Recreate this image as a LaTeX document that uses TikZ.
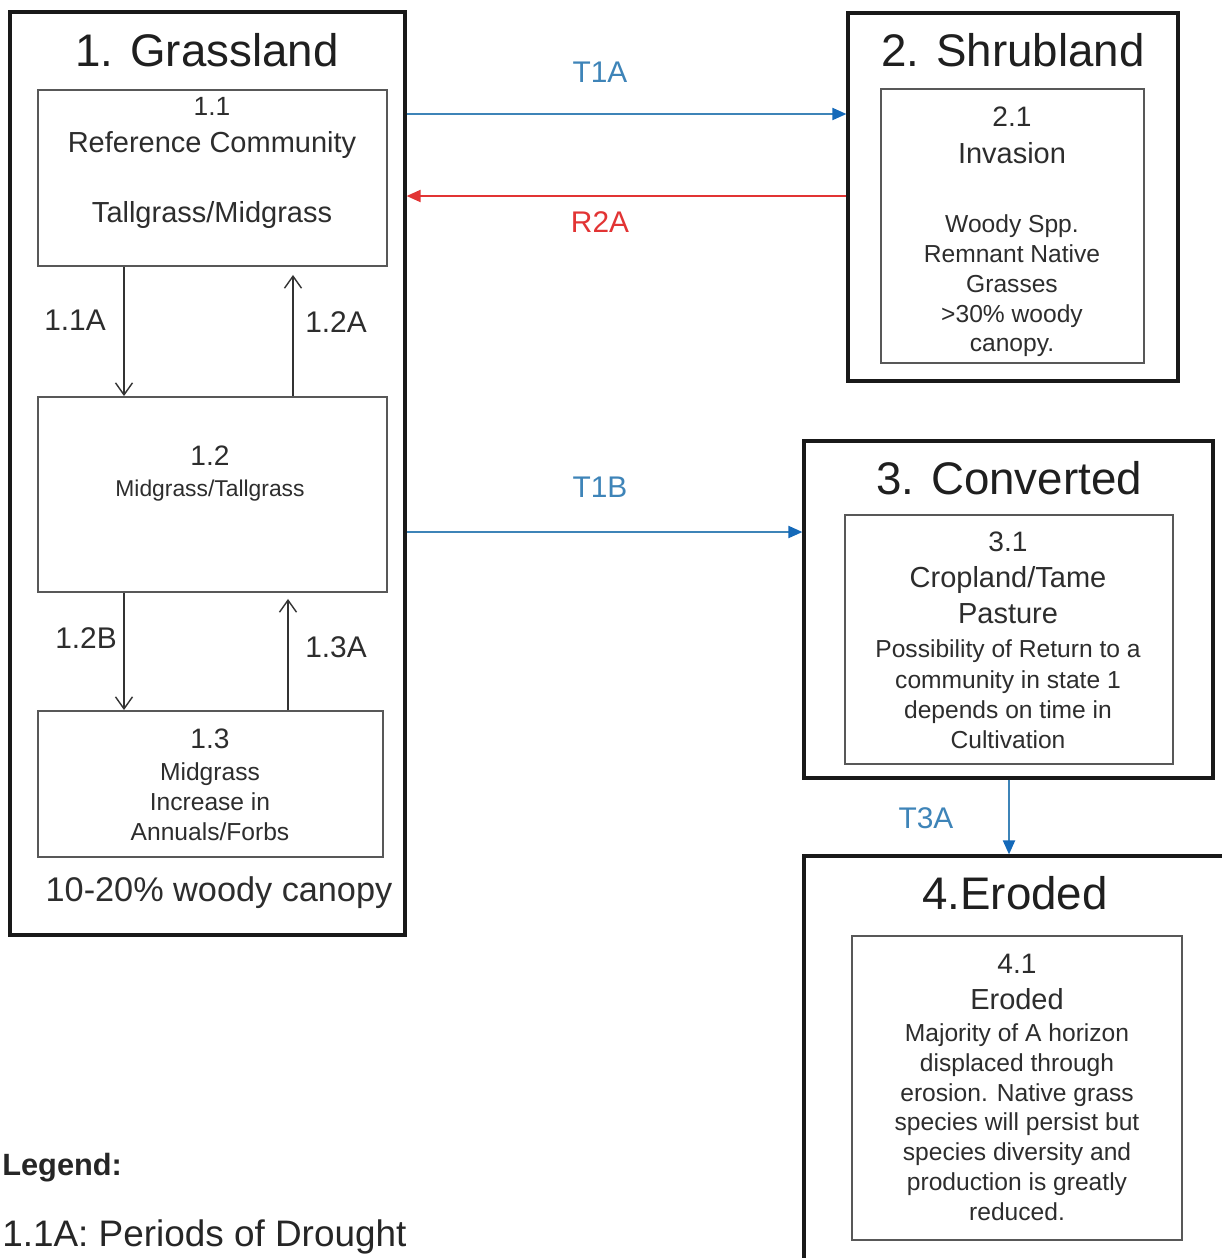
\documentclass[tikz,border=0pt]{standalone}
\usepackage{fontspec}
\setmainfont{Liberation Sans}
\usetikzlibrary{fit,arrows.meta}

\definecolor{transblue}{RGB}{62,132,184}
\definecolor{tipblue}{RGB}{20,105,185}
\definecolor{restred}{RGB}{226,52,52}
\definecolor{boxgray}{RGB}{88,88,88}
\definecolor{inkgray}{RGB}{45,45,45}

\newcommand{\fsz}[2]{\fontsize{#1}{#2}\selectfont}

\begin{document}
\begin{tikzpicture}[x=0.02cm, y=-0.02cm,
    statebox/.style={draw=black!90, line width=1.8pt, inner sep=0pt},
    phasebox/.style={draw=boxgray, line width=1.1pt, inner sep=0pt},
    statetitle/.style={anchor=base, inner sep=0pt, text=black!88, font=\fsz{26}{30}},
    phasetext/.style={anchor=north, align=center, inner sep=0pt, text=inkgray, font=\fsz{14}{17}},
    pathlabel/.style={inner sep=0pt, text=inkgray, font=\fsz{17}{20}},
    pathway/.style={draw=black!80, line width=0.8pt, -{Straight Barb[length=2.4mm,width=3.4mm]}},
    transition/.style={draw=transblue, line width=1.1pt, -{Triangle[length=2.8mm,width=2.4mm,color=tipblue]}},
    restoration/.style={draw=restred, line width=1.1pt, -{Triangle[length=2.8mm,width=2.4mm]}}]
              \useasboundingbox (0,0) rectangle (1222,1258);
              \clip (0,0) rectangle (1222,1258);
              \fill[white] (0,0) rectangle (1222,1258);

              \node[statebox, fit={(10,12) (405,935)}] (grass) {};
              \node[statebox, fit={(848,13) (1178,381)}] (shrub) {};
              \node[statebox, fit={(804,441) (1213,778)}] (conv) {};
              \node[statebox, fit={(804,856) (1260,1300)}] (erod) {};

              \node[phasebox, fit={(38,90) (387,266)}] (c11) {};
              \node[phasebox, fit={(38,397) (387,592)}] (c12) {};
              \node[phasebox, fit={(38,711) (383,857)}] (c13) {};
              \node[phasebox, fit={(881,89) (1144,363)}] (c21) {};
              \node[phasebox, fit={(845,515) (1173,764)}] (c31) {};
              \node[phasebox, fit={(852,936) (1182,1240)}] (c41) {};

              \node[statetitle] (grassT) at (207,66) {1. Grassland};
              \node[statetitle] (shrubT) at (1013,66) {2. Shrubland};
              \node[statetitle] (convT) at (1009,494) {3. Converted};
              \node[statetitle] (erodT) at (1015,909) {4.Eroded};

              \node[phasetext, font=\fsz{16.5}{21}] (c11t) at (212,97) {{\fsz{15}{21}1.1}\\Reference Community\\[19pt]Tallgrass/Midgrass};
              \node[phasetext, font=\fsz{13}{17.6}] (c12t) at (210,446) {{\fsz{16}{17.6}1.2}\\Midgrass/Tallgrass};
              \node[phasetext] (c13t) at (210,729) {{\fsz{16}{17}1.3}\\[1pt]Midgrass\\Increase in\\Annuals/Forbs};
              \node[phasetext] (c21t) at (1012,107) {{\fsz{16}{17}2.1}\\[4pt]{\fsz{16.5}{17}Invasion}\\[22pt]Woody Spp.\\Remnant Native\\Grasses\\>30\% woody\\canopy.};
              \node[phasetext] (c31t) at (1008,532) {{\fsz{16}{17}3.1}\\[3.4pt]{\fsz{16.5}{17}Cropland/Tame}\\[3.4pt]{\fsz{16.5}{17}Pasture}\\[2.3pt]Possibility of Return to a\\[0.6pt]community in state 1\\depends on time in\\Cultivation};
              \node[phasetext] (c41t) at (1017,954) {{\fsz{16}{17}4.1}\\[3.4pt]{\fsz{16.5}{17}Eroded}\\[1.1pt]Majority of A horizon\\displaced through\\erosion. Native grass\\species will persist but\\species diversity and\\production is greatly\\reduced.};
              \node[pathlabel, font=\fsz{19.5}{22}, anchor=base] (canopy) at (219,901) {10-20\% woody canopy};

              \node[pathlabel] (l11A) at (75,320) {1.1A};
              \node[pathlabel] (l12A) at (336,322) {1.2A};
              \node[pathlabel] (l12B) at (86,638) {1.2B};
              \node[pathlabel] (l13A) at (336,647) {1.3A};
              \node[pathlabel, text=transblue] (lT1A) at (600,72) {T1A};
              \node[pathlabel, text=restred] (lR2A) at (600,222) {R2A};
              \node[pathlabel, text=transblue] (lT1B) at (600,487) {T1B};
              \node[pathlabel, text=transblue] (lT3A) at (926,818) {T3A};

              \coordinate (xL) at (124,0);
              \coordinate (x12A) at (293,0);
              \coordinate (x13A) at (288,0);
              \coordinate (yT1A) at (0,114);
              \coordinate (yR2A) at (0,196);
              \coordinate (yT1B) at (0,532);
              \coordinate (xT3A) at (1009,0);

              \draw[pathway] (c11.south -| xL) -- (c12.north -| xL);
              \draw[pathway, shorten >=1.6mm] (c12.north -| x12A) -- (c11.south -| x12A);
              \draw[pathway] (c12.south -| xL) -- (c13.north -| xL);
              \draw[pathway, shorten >=1.2mm] (c13.north -| x13A) -- (c12.south -| x13A);
              \draw[transition] (grass.east |- yT1A) -- (shrub.west |- yT1A);
              \draw[restoration] (shrub.west |- yR2A) -- (grass.east |- yR2A);
              \draw[transition] (grass.east |- yT1B) -- (conv.west |- yT1B);
              \draw[transition] (conv.south -| xT3A) -- (erod.north -| xT3A);

              \node[anchor=base west, inner sep=0pt, font=\fsz{17.5}{20}\bfseries, text=black!85] (legendT) at (2,1175) {Legend:};
              \node[anchor=base west, inner sep=0pt, font=\fsz{21}{25}, text=black!85] (legend11A) at (2,1246) {1.1A: Periods of Drought};
            \end{tikzpicture}
\end{document}
